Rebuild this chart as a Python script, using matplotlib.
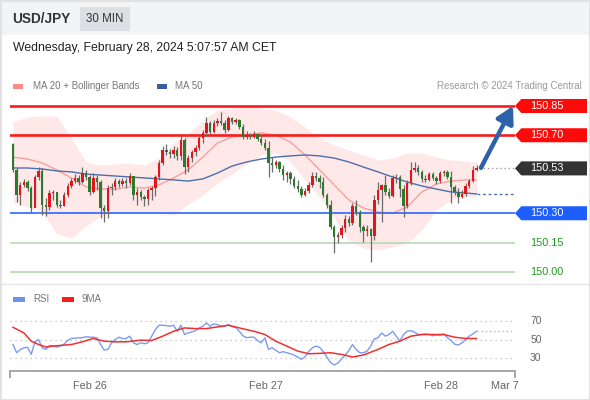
import numpy as np
import matplotlib
matplotlib.use('Agg')
import matplotlib.pyplot as plt
from matplotlib.patches import Rectangle, Polygon
from matplotlib.transforms import blended_transform_factory

plt.rcParams['font.family'] = ['Liberation Sans', 'DejaVu Sans']

# 30 min candles, USD/JPY
first_open = 150.655
close = [
    150.522, 150.394, 150.445, 150.460, 150.429, 150.327, 150.486, 150.517, 150.342, 150.332,
    150.404, 150.409, 150.342, 150.337, 150.394, 150.440, 150.465, 150.481, 150.460, 150.506,
    150.486, 150.409, 150.481, 150.460, 150.327, 150.312, 150.429, 150.435, 150.465, 150.450,
    150.465, 150.455, 150.491, 150.394, 150.409, 150.383, 150.373, 150.419, 150.429, 150.486,
    150.558, 150.624, 150.614, 150.604, 150.624, 150.594, 150.676, 150.537, 150.583, 150.614,
    150.635, 150.686, 150.712, 150.763, 150.717, 150.763, 150.773, 150.763, 150.727, 150.788,
    150.768, 150.778, 150.742, 150.691, 150.701, 150.691, 150.706, 150.681, 150.660, 150.635,
    150.558, 150.547, 150.563, 150.527, 150.496, 150.506, 150.476, 150.440, 150.424, 150.394,
    150.414, 150.445, 150.491, 150.481, 150.460, 150.394, 150.342, 150.230, 150.178, 150.188,
    150.224, 150.271, 150.250, 150.337, 150.306, 150.230, 150.209, 150.219, 150.183, 150.368,
    150.419, 150.445, 150.409, 150.388, 150.481, 150.486, 150.424, 150.337, 150.455, 150.522,
    150.532, 150.512, 150.476, 150.471, 150.501, 150.481, 150.465, 150.506, 150.512, 150.486,
    150.435, 150.409, 150.383, 150.399, 150.440, 150.465, 150.522, 150.530]
high = [
    150.660, 150.532, 150.460, 150.476, 150.471, 150.440, 150.496, 150.537, 150.532, 150.378,
    150.419, 150.419, 150.409, 150.368, 150.409, 150.455, 150.481, 150.501, 150.496, 150.537,
    150.522, 150.496, 150.506, 150.496, 150.471, 150.342, 150.445, 150.455, 150.481, 150.476,
    150.481, 150.481, 150.506, 150.491, 150.429, 150.419, 150.394, 150.429, 150.440, 150.496,
    150.573, 150.645, 150.655, 150.629, 150.645, 150.640, 150.701, 150.686, 150.599, 150.624,
    150.650, 150.701, 150.727, 150.794, 150.773, 150.778, 150.788, 150.819, 150.778, 150.799,
    150.794, 150.788, 150.783, 150.758, 150.722, 150.712, 150.722, 150.712, 150.701, 150.681,
    150.671, 150.588, 150.573, 150.568, 150.547, 150.517, 150.517, 150.491, 150.471, 150.440,
    150.429, 150.460, 150.512, 150.512, 150.496, 150.486, 150.404, 150.368, 150.240, 150.204,
    150.240, 150.291, 150.286, 150.353, 150.368, 150.317, 150.240, 150.240, 150.224, 150.394,
    150.460, 150.450, 150.496, 150.429, 150.496, 150.501, 150.496, 150.445, 150.471, 150.563,
    150.563, 150.547, 150.522, 150.496, 150.512, 150.512, 150.491, 150.517, 150.522, 150.522,
    150.517, 150.445, 150.429, 150.419, 150.455, 150.476, 150.542, 150.547]
low = [
    150.512, 150.358, 150.342, 150.435, 150.414, 150.301, 150.337, 150.471, 150.291, 150.286,
    150.317, 150.368, 150.332, 150.327, 150.337, 150.383, 150.429, 150.455, 150.445, 150.455,
    150.471, 150.394, 150.404, 150.419, 150.276, 150.255, 150.276, 150.394, 150.419, 150.435,
    150.440, 150.429, 150.445, 150.368, 150.342, 150.368, 150.337, 150.342, 150.368, 150.388,
    150.471, 150.547, 150.599, 150.583, 150.583, 150.573, 150.573, 150.501, 150.512, 150.563,
    150.594, 150.624, 150.660, 150.696, 150.706, 150.712, 150.747, 150.753, 150.712, 150.722,
    150.758, 150.758, 150.732, 150.681, 150.681, 150.681, 150.686, 150.671, 150.650, 150.624,
    150.486, 150.512, 150.532, 150.512, 150.471, 150.460, 150.450, 150.429, 150.409, 150.383,
    150.388, 150.404, 150.435, 150.465, 150.429, 150.383, 150.327, 150.219, 150.096, 150.147,
    150.173, 150.204, 150.235, 150.240, 150.291, 150.204, 150.153, 150.183, 150.050, 150.163,
    150.347, 150.255, 150.394, 150.378, 150.383, 150.455, 150.383, 150.281, 150.327, 150.445,
    150.512, 150.496, 150.460, 150.460, 150.465, 150.471, 150.450, 150.455, 150.491, 150.476,
    150.353, 150.394, 150.353, 150.378, 150.388, 150.429, 150.460, 150.517]

# moving averages / bollinger, read every 4th candle
band_idx = [0, 4, 8, 12, 16, 20, 24, 28, 32, 36, 40, 44, 48, 52, 56, 60, 64, 68, 72, 76,
            80, 84, 88, 92, 96, 100, 104, 108, 112, 116, 120, 124, 127]
ma20 = [150.588, 150.578, 150.558, 150.522, 150.481, 150.435, 150.424, 150.424, 150.435, 150.429,
        150.445, 150.481, 150.522, 150.588, 150.660, 150.691, 150.701, 150.712, 150.701, 150.665,
        150.599, 150.522, 150.445, 150.368, 150.327, 150.306, 150.301, 150.332, 150.409, 150.450,
        150.465, 150.471, 150.471]
ma50 = [150.532, 150.532, 150.527, 150.517, 150.512, 150.501, 150.496, 150.491, 150.486, 150.481,
        150.476, 150.471, 150.465, 150.476, 150.506, 150.542, 150.563, 150.578, 150.588, 150.594,
        150.599, 150.594, 150.583, 150.563, 150.537, 150.512, 150.486, 150.460, 150.440, 150.424,
        150.409, 150.404, 150.399]
bb_upper = [150.768, 150.794, 150.799, 150.799, 150.686, 150.563, 150.547, 150.553, 150.558, 150.547,
            150.583, 150.660, 150.706, 150.778, 150.829, 150.840, 150.845, 150.840, 150.829, 150.794,
            150.742, 150.686, 150.650, 150.624, 150.599, 150.573, 150.583, 150.609, 150.609, 150.588,
            150.573, 150.568, 150.563]
bb_lower = [150.353, 150.332, 150.306, 150.194, 150.173, 150.235, 150.286, 150.306, 150.306, 150.306,
            150.301, 150.291, 150.347, 150.394, 150.455, 150.501, 150.553, 150.599, 150.609, 150.563,
            150.471, 150.383, 150.276, 150.163, 150.122, 150.112, 150.127, 150.147, 150.214, 150.317,
            150.368, 150.383, 150.388]

rsi = [44.6, 35.7, 39.0, 41.1, 41.5, 34.0, 47.5, 50.0, 41.0, 39.3,
       43.6, 42.9, 41.8, 42.9, 45.0, 49.0, 51.1, 51.5, 51.8, 52.0,
       53.0, 52.5, 52.5, 51.8, 44.6, 38.6, 39.3, 46.4, 50.0, 52.5,
       51.1, 51.1, 53.6, 46.4, 44.6, 46.4, 45.4, 46.4, 53.6, 60.7,
       65.4, 65.4, 65.0, 64.3, 65.4, 58.9, 65.4, 55.4, 57.1, 58.2,
       59.6, 62.5, 64.3, 67.9, 64.3, 66.8, 66.1, 64.3, 64.3, 66.1,
       64.3, 63.0, 59.0, 54.0, 52.0, 52.5, 52.5, 48.9, 46.4, 51.8,
       39.3, 41.1, 38.2, 35.7, 36.8, 35.7, 34.6, 33.2, 31.1, 28.6,
       31.5, 37.0, 41.0, 42.9, 41.5, 37.0, 31.0, 25.0, 22.5, 24.5,
       29.0, 33.0, 38.0, 44.6, 39.3, 35.7, 35.7, 37.5, 42.9, 50.7,
       51.8, 57.1, 53.6, 55.4, 58.9, 53.6, 48.2, 55.4, 58.9, 59.6,
       58.0, 55.4, 55.4, 56.0, 55.4, 54.0, 55.0, 54.6, 56.1, 52.0,
       49.0, 45.0, 44.0, 46.4, 50.0, 53.6, 56.1, 58.9]
ma9_idx = [0, 3, 5, 7, 9, 11, 13, 16, 19, 22, 25, 28, 31, 35, 38, 41, 44, 47, 50, 53,
           56, 59, 62, 66, 69, 72, 75, 78, 81, 84, 87, 90, 93, 96, 100, 103, 106, 109, 112, 115,
           118, 121, 124, 127]
rsi_ma9 = [63.2, 57.1, 48.2, 44.6, 41.8, 42.9, 43.6, 44.6, 47.5, 51.1,
           48.2, 47.5, 47.5, 49.3, 48.9, 53.6, 58.9, 62.5, 61.8, 61.8,
           63.6, 65.4, 62.5, 58.9, 55.4, 48.2, 42.9, 37.5, 34.6, 35.0,
           35.7, 33.9, 31.1, 33.2, 39.3, 44.6, 48.2, 53.6, 55.4, 55.4,
           55.4, 52.5, 51.1, 51.1]

resistances = [150.85, 150.70]
support = 150.30
lower_levels = [150.15, 150.00]
target = 150.85

day_idx = [21.1, 69.2, 117.2, 134.7]
day_labels = ['Feb 26', 'Feb 27', 'Feb 28', 'Mar 7']
rsi_levels = [70, 50, 30]

W, H = 590, 400
fig = plt.figure(figsize=(W / 100, H / 100), dpi=100)
xlim = (-0.82, 137.53)

# --- price panel ---
ax = fig.add_axes([10 / W, 1 - 280 / H, 505 / W, 185 / H])
ax.set_xlim(*xlim)
ax.set_ylim(149.9577, 150.9064)
ax.axis('off')

ax.fill_between(band_idx, bb_lower, bb_upper, color='#ffe8e8', lw=0, zorder=1)
ax.plot(band_idx, ma20, color='#f7a0a0', lw=1, zorder=2)
ax.plot(band_idx, ma50, color='#4b6fab', lw=1, zorder=2)

for lv in resistances:
    ax.axhline(lv, color='#f51d1d', lw=1.9, zorder=2.5)
ax.axhline(support, color='#2a66ff', lw=1.2, zorder=2.5)
for lv in lower_levels:
    ax.axhline(lv, color='#b6d9b1', lw=1.2, zorder=2.5)

idx = np.arange(len(close))
c = np.array(close)
o = np.array([first_open] + close[:-1])
col = np.where(c >= o, '#e3141b', '#2d7a2d')
ax.vlines(idx, low, high, color='#6a6a6a', lw=0.9, zorder=3)
ax.bar(idx, np.maximum(np.abs(c - o), 0.003), bottom=np.minimum(o, c), width=0.66,
       color=col, lw=0, zorder=4)

# extensions past last candle
ax.plot([idx[-1] + 0.8, xlim[1]], [close[-1]] * 2, color='#999999', lw=1,
        linestyle=(0, (1, 2)), zorder=2)
ax.plot([idx[-1], xlim[1]], [ma50[-1]] * 2, color='#4b6fab', lw=1,
        linestyle=(0, (2, 2)), zorder=2)
ax.annotate('', xy=(137.0, target), xytext=(idx[-1] + 1.2, close[-1] + 0.003),
            arrowprops=dict(arrowstyle='-|>,head_length=0.9,head_width=0.5', lw=3.2,
                            color='#2e62a8', mutation_scale=11, shrinkA=0, shrinkB=0),
            zorder=5)

# price tags on the right
tr = blended_transform_factory(ax.transAxes, ax.transData)
hh = 0.036


def price_tag(price, face):
    pts = [(1.0, price), (1.0125, price + hh), (1.1426, price + hh),
           (1.1426, price - hh), (1.0125, price - hh)]
    ax.add_patch(Polygon(pts, closed=True, transform=tr, facecolor=face,
                         edgecolor='none', clip_on=False))
    ax.text(1.03, price, f'{price:.2f}', transform=tr, color='white', fontsize=7.8,
            va='center', ha='left', clip_on=False)


for lv in resistances:
    price_tag(lv, '#ff0a0a')
price_tag(close[-1], '#333333')
price_tag(support, '#1e5eff')
for lv in lower_levels:
    ax.text(1.03, lv, f'{lv:.2f}', transform=tr, color='#1f9a1f', fontsize=7.8,
            va='center', ha='left', clip_on=False)

# --- RSI panel ---
rx = fig.add_axes([10 / W, 1 - 371 / H, 505 / W, 66 / H])
rx.set_xlim(*xlim)
rx.set_ylim(15.95, 87.3)
for s in ['top', 'left', 'right']:
    rx.spines[s].set_visible(False)
rx.spines['bottom'].set_color('#a0a0a0')
rx.spines['bottom'].set_linewidth(1.3)
rx.set_yticks([])
rx.set_xticks(day_idx)
rx.set_xticklabels(day_labels)
rx.tick_params(axis='x', length=0, pad=7, labelsize=7.8, labelcolor='#666666')
rx.set_xticks(list(xlim), minor=True)
rx.tick_params(axis='x', which='minor', length=5, width=1.3, color='#a0a0a0')
rx.patch.set_alpha(0)

trr = blended_transform_factory(rx.transAxes, rx.transData)
for lv in rsi_levels:
    rx.axhline(lv, color='#bdbdbd', lw=0.9, linestyle=(0, (1, 3)))
    rx.text(1.03, lv, str(lv), transform=trr, color='#666666', fontsize=7.5,
            va='center', ha='left', clip_on=False)

rx.plot(idx, rsi, color='#7d9cf0', lw=1)
rx.plot(ma9_idx, rsi_ma9, color='#f03030', lw=1.1)
rx.plot([idx[-1], xlim[1]], [rsi[-1]] * 2, color='#9fb6f2', lw=1, linestyle=(0, (1, 2)))

# --- header, legends, frame (pixel overlay) ---
ov = fig.add_axes([0, 0, 1, 1], zorder=-1)
ov.set_xlim(0, W)
ov.set_ylim(H, 0)
ov.axis('off')
ov.add_patch(Rectangle((0, 0), W, 35, facecolor='#f3f4f6', edgecolor='none'))
ov.text(12, 19, 'USD/JPY', fontsize=9.8, fontweight='bold', color='#333333', va='center')
ov.add_patch(Rectangle((80, 7), 50, 24, facecolor='#dcdfe3', edgecolor='none'))
ov.text(105, 19, '30 MIN', fontsize=8.3, color='#333333', va='center', ha='center')
ov.text(13, 48, 'Wednesday, February 28, 2024 5:07:57 AM CET', fontsize=8.8,
        color='#222222', va='center')

ov.add_patch(Rectangle((13, 84), 10, 4.5, facecolor='#ff8a8a', edgecolor='none'))
ov.text(33, 86, 'MA 20 + Bollinger Bands', fontsize=7, color='#777777', va='center')
ov.add_patch(Rectangle((157, 84), 10, 4.5, facecolor='#3b5f9e', edgecolor='none'))
ov.text(175, 86, 'MA 50', fontsize=7, color='#777777', va='center')
ov.text(582, 86, 'Research \u00a9 2024 Trading Central', fontsize=7, color='#9a9a9a',
        va='center', ha='right')

ov.add_patch(Rectangle((13, 297), 12, 4.5, facecolor='#6f93ea', edgecolor='none'))
ov.text(33, 299, 'RSI', fontsize=7, color='#777777', va='center')
ov.add_patch(Rectangle((62, 297), 12, 4.5, facecolor='#ff1a1a', edgecolor='none'))
ov.text(82, 299, '9MA', fontsize=7, color='#777777', va='center')

ov.plot([0, W], [284, 284], color='#e6e6e6', lw=1)
ov.add_patch(Rectangle((0.5, 0.5), W - 1, H - 1, facecolor='none', edgecolor='#e2e2e2', lw=1.5))

fig.savefig('out.png', dpi=100)
